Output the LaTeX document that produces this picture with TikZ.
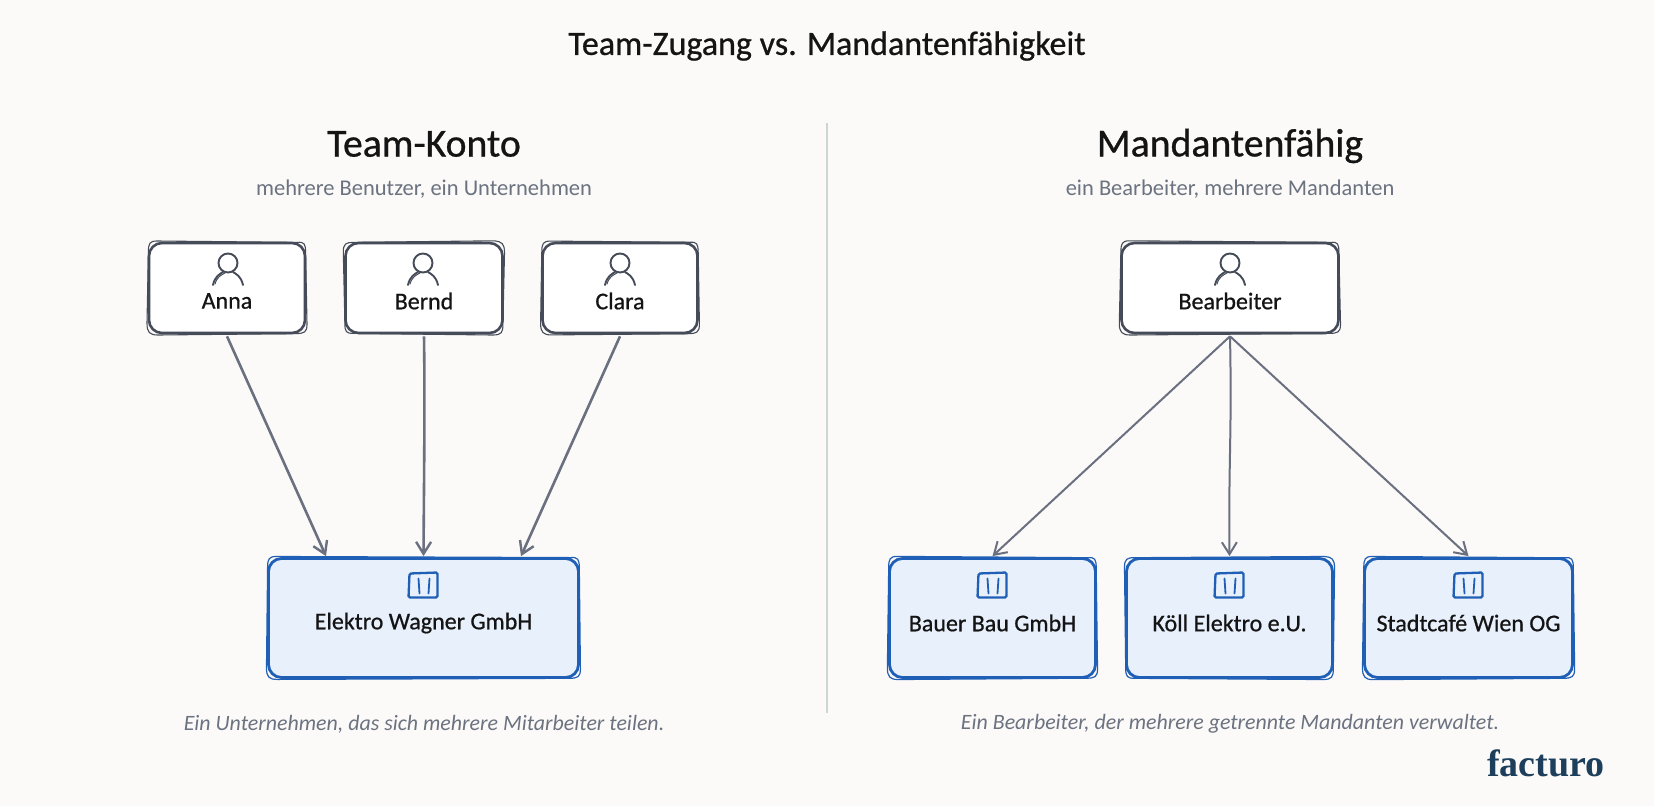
\documentclass[tikz,border=0pt]{standalone}
\usepackage{fontspec}
\setmainfont{Carlito}
\newfontfamily\inkfont{Carlito}[RawFeature={embolden=0.7}]
\newfontfamily\logofont{Liberation Serif}
\usetikzlibrary{arrows.meta,calc}
\definecolor{bgc}{HTML}{FBFAF8}
\definecolor{inkc}{HTML}{454B58}
\definecolor{bluec}{HTML}{1F5FB5}
\definecolor{bluefill}{HTML}{E8F0FB}
\definecolor{greyc}{HTML}{6B7280}
\definecolor{arrowc}{HTML}{6B7080}
\definecolor{rulec}{HTML}{CDD5D6}
\definecolor{logoc}{HTML}{1D3F5C}
\tikzset{
 x=1pt,y=-1pt,
 personbox/.style={draw=inkc,fill=white,line width=2.6pt,rounded corners=13pt,inner sep=0pt},
 companybox/.style={draw=bluec,fill=bluefill,line width=2.8pt,rounded corners=13pt,inner sep=0pt},
 roughink/.style={draw=inkc,line width=1.1pt,line cap=round},
 roughblue/.style={draw=bluec,line width=1.2pt,line cap=round},
 conn/.style={draw=arrowc,line width=2.6pt,-{Straight Barb[length=12pt,width=15pt,line width=2.4pt]}},
 connthin/.style={draw=arrowc,line width=2pt,-{Straight Barb[length=12pt,width=15pt,line width=2pt]}},
 maintitle/.style={font=\inkfont\fontsize{34}{38}\selectfont,text=black!92},
 heading/.style={font=\inkfont\fontsize{39.7}{44}\selectfont,text=black!92},
 subtitle/.style={font=\fontsize{22.5}{26}\selectfont,text=greyc},
 caption/.style={font=\itshape\fontsize{21.9}{26}\selectfont,text=greyc},
 label/.style={font=\inkfont\fontsize{24}{27}\selectfont,text=black!92},
 person/.pic={
  \draw[inkc,line width=1.9pt,line cap=round] (0,-9) circle[radius=9.5];
  \draw[inkc,line width=1.9pt,line cap=round] (-15,13) .. controls (-13,4) and (-8,2) .. (-5,0);
  \draw[inkc,line width=1.9pt,line cap=round] (15,13) .. controls (13,4) and (8,2) .. (5,0);
  \draw[inkc,line width=1pt,line cap=round] (-13,12) .. controls (-11,5) and (-7,3) .. (-3,1);
 },
 building/.pic={
  \draw[bluec,line width=2.3pt,line cap=round,rounded corners=1.5pt] (-14,-12) -- (14,-13) -- (14,12) -- (-15,12) -- cycle;
  \draw[bluec,line width=1.8pt,line cap=round] (-5,-7) -- (-4,8);
  \draw[bluec,line width=1.8pt,line cap=round] (6,-7) -- (5,8);
 },
}
% second pencil stroke over a box, with small per-box offsets
\newcommand{\roughstroke}[4]{%
 \draw[#2] ([shift={(9,#3)}]#1.north west) -- ([shift={(-9,#4)}]#1.north east)
  .. controls ([shift={(-2,0)}]#1.north east) and ([shift={(#3,2)}]#1.north east) .. ([shift={(#3,11)}]#1.north east)
  -- ([shift={(#4,-10)}]#1.south east)
  .. controls ([shift={(#4,-2)}]#1.south east) and ([shift={(-2,#3)}]#1.south east) .. ([shift={(-11,#3)}]#1.south east)
  -- ([shift={(10,#4)}]#1.south west)
  .. controls ([shift={(2,#4)}]#1.south west) and ([shift={(#3,-2)}]#1.south west) .. ([shift={(#3,-11)}]#1.south west)
  -- ([shift={(#4,10)}]#1.north west)
  .. controls ([shift={(#4,2)}]#1.north west) and ([shift={(2,#3)}]#1.north west) .. ([shift={(9,#3)}]#1.north west);}
\begin{document}
\begin{tikzpicture}
\useasboundingbox (0,0) rectangle (1654,806);
\fill[bgc] (0,0) rectangle (1654,806);

\node[maintitle] (title) at (827,46) {Team-Zugang vs. Mandantenfähigkeit};

\node[heading] (hleft) at (424,144) {Team-Konto};
\node[subtitle] (sleft) at (424,189) {mehrere Benutzer, ein Unternehmen};
\node[heading] (hright) at (1230,146) {Mandantenfähig};
\node[subtitle] (sright) at (1230,189) {ein Bearbeiter, mehrere Mandanten};

\coordinate (rtop) at (827,123);
\coordinate (rbot) at (827,713);
\draw[rulec,line width=1.8pt] (rtop) -- (rbot);

% person boxes
\node[personbox,minimum width=156pt,minimum height=90pt] (anna) at (227,288) {};
\node[personbox,minimum width=157pt,minimum height=90pt] (bernd) at (424,288) {};
\node[personbox,minimum width=155pt,minimum height=90pt] (clara) at (620,288) {};
\node[personbox,minimum width=217pt,minimum height=90pt] (bearb) at (1230,288) {};
\roughstroke{anna}{roughink}{-.7}{.7}
\roughstroke{bernd}{roughink}{.7}{-.9}
\roughstroke{clara}{roughink}{-.6}{.6}
\roughstroke{bearb}{roughink}{-.9}{.7}

\pic at (228,272) {person};
\pic at (423,272) {person};
\pic at (620,272) {person};
\pic at (1230,272) {person};
\node[label] (lanna) at (227,301) {Anna};
\node[label] (lbernd) at (424,301) {Bernd};
\node[label] (lclara) at (620,301) {Clara};
\node[label] (lbearb) at (1230,301) {Bearbeiter};

% company boxes
\node[companybox,minimum width=310pt,minimum height=119pt] (wagner) at (423.5,618) {};
\node[companybox,minimum width=206pt,minimum height=119pt] (bauer) at (992.5,618) {};
\node[companybox,minimum width=206pt,minimum height=119pt] (koell) at (1229.5,618) {};
\node[companybox,minimum width=208pt,minimum height=119pt] (stadt) at (1468.5,618) {};
\roughstroke{wagner}{roughblue}{-.6}{.5}
\roughstroke{bauer}{roughblue}{-.7}{.6}
\roughstroke{koell}{roughblue}{.6}{-.6}
\roughstroke{stadt}{roughblue}{-.6}{.7}

\pic at (423.5,585.5) {building};
\pic at (992.5,585.5) {building};
\pic at (1229.5,585.5) {building};
\pic at (1468.5,585.5) {building};
\node[label] (lwagner) at (423.5,623) {Elektro Wagner GmbH};
\node[label] (lbauer) at (992.5,623) {Bauer Bau GmbH};
\node[label] (lkoell) at (1229.5,623) {Köll Elektro e.U.};
\node[label] (lstadt) at (1468.5,623) {Stadtcafé Wien OG};

% connectors
\draw[conn] ([yshift=-2pt]anna.south) -- ([xshift=-97.5pt,yshift=1pt]wagner.north);
\draw[conn] ([yshift=-2pt]bernd.south) .. controls ([xshift=1pt,yshift=-70pt]bernd.south) and ([xshift=.5pt,yshift=80pt]wagner.north) .. ([yshift=1pt]wagner.north);
\draw[conn] ([yshift=-2pt]clara.south) -- ([xshift=97.5pt,yshift=1pt]wagner.north);
\draw[connthin] ([yshift=-2pt]bearb.south) -- ([yshift=1pt]bauer.north);
\draw[connthin] ([yshift=-2pt]bearb.south) .. controls ([xshift=2pt,yshift=-100pt]bearb.south) and ([xshift=-1pt,yshift=100pt]koell.north) .. ([yshift=1pt]koell.north);
\draw[connthin] ([yshift=-2pt]bearb.south) -- ([yshift=1pt]stadt.north);

% captions
\node[caption] (cleft) at (424,724) {Ein Unternehmen, das sich mehrere Mitarbeiter teilen.};
\node[caption] (cright) at (1230,724) {Ein Bearbeiter, der mehrere getrennte Mandanten verwaltet.};

\node[font=\logofont\bfseries\fontsize{38}{42}\selectfont,text=logoc] (logo) at (1546,763) {facturo};
\end{tikzpicture}
\end{document}
